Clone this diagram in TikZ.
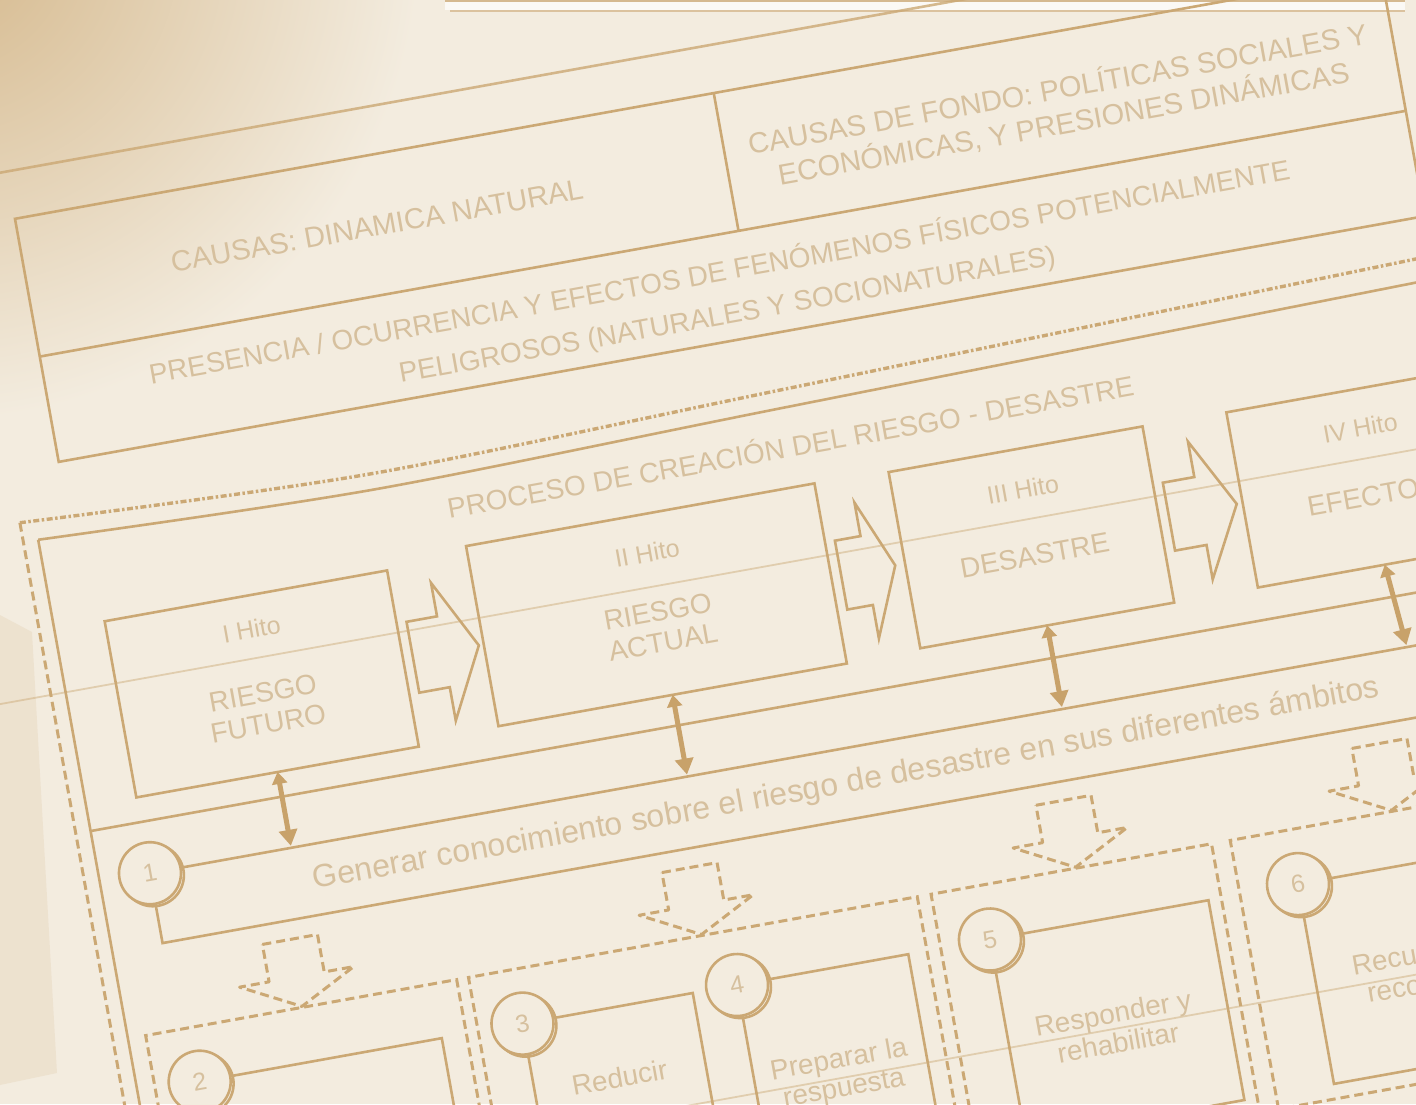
\documentclass[tikz,border=0pt]{standalone}
\usepackage{fontspec}
\setmainfont{Liberation Sans}
\usetikzlibrary{arrows.meta}
\definecolor{bg}{HTML}{F3ECDF}
\definecolor{ln}{HTML}{CBA874}
\definecolor{tx}{HTML}{D6C09E}
\definecolor{tanc}{HTML}{D4B78A}
\definecolor{arr}{HTML}{C8A26A}
\begin{document}
\begin{tikzpicture}[x=1pt,y=-1pt,
  boxline/.style={draw=ln,line width=2.6pt},
  hbox/.style={draw=ln,line width=2.6pt,inner sep=0pt,outer sep=0pt,rectangle},
  dline/.style={draw=ln,line width=3pt,dash pattern=on 9pt off 5pt},
  ddline/.style={draw=ln,line width=3.4pt,dash pattern=on 6pt off 2.5pt on 2.5pt off 2.5pt},
  ruled/.style={draw=ln,line width=1.8pt,opacity=0.45},
  lbl/.style={text=tx,align=center,inner sep=0pt,font=\fontsize{28}{34}\selectfont},
  hdr/.style={lbl,font=\fontsize{25}{30}\selectfont},
  numc/.style={circle,draw=ln,line width=2.6pt,fill=bg,minimum size=62pt,inner sep=0pt,text=tx,font=\fontsize{25}{28}\selectfont},
  dbl/.style={draw=arr,line width=5pt,{Triangle[width=15pt,length=12pt]}-{Triangle[width=18pt,length=16pt]}},
  blk/.style={draw=ln,line width=2.6pt,line join=miter},
  dblk/.style={dline,line join=round}
]
\useasboundingbox (0,0) rectangle (1416,1104);
\fill[bg] (0,0) rectangle (1416,1104);
\begin{scope}
\clip (0,0) rectangle (1416,1104);
% paper shading
\shade[inner color=tanc, outer color=bg] (-60,-60) circle (480pt);
\fill[tanc,opacity=0.18] (0,615) -- (32,632) -- (57,1073) -- (0,1085) -- cycle;
% frame at the top
\fill[white!70!bg] (445,0) rectangle (1405,10);
\draw[ln!80,line width=2pt] (445,1) -- (1405,1);
\draw[ln!70,line width=2pt] (450,11) -- (1405,11);

\begin{scope}[rotate=10.2,transform shape]
% ruled lines of the paper
\draw[ruled] (-150,693) -- (1500,693);
\draw[ruled] (-150,1210) -- (1500,1210);
% top rows
\draw[boxline,opacity=.8] (-120,170) -- (1500,170);
\draw[boxline] (-24,218) rectangle (1364,465);
\draw[boxline] (-24,358) -- (1364,358);
\draw[boxline] (686,218) -- (686,358);
\node[lbl,font=\fontsize{29}{35}\selectfont] (causasA) at (331,289) {CAUSAS: DINAMICA NATURAL};
\node[lbl,font=\fontsize{29}{35}\selectfont] (causasB) at (1025,292) {CAUSAS DE FONDO: POLÍTICAS SOCIALES Y\\ECONÓMICAS, Y PRESIONES DINÁMICAS};
\node[lbl,font=\fontsize{28}{43}\selectfont] (presencia) at (660,417) {PRESENCIA / OCURRENCIA Y EFECTOS DE FENÓMENOS FÍSICOS POTENCIALMENTE\\PELIGROSOS (NATURALES Y SOCIONATURALES)};
% process frames
\draw[ddline] plot[smooth] coordinates {(-73,518) (280,532) (700,522) (1450,503)};
\draw[dline] (-73,518) -- (-73,1340);
\draw[boxline] plot[smooth] coordinates {(-58,538) (280,548) (700,540) (1450,527)};
\draw[boxline] (-58,538) -- (-58,1340);
\draw[boxline] (-58,834) -- (1450,834);
\node[lbl] (proc) at (699,578) {PROCESO DE CREACIÓN DEL RIESGO - DESASTRE};
% hitos
\node[hbox,minimum width=287pt,minimum height=179pt] (h1) at (136.5,719.5) {};
\node[hbox,minimum width=354pt,minimum height=183pt] (h2) at (539,711.5) {};
\node[hbox,minimum width=258pt,minimum height=179pt] (h3) at (920,711.5) {};
\node[hbox,minimum width=258pt,minimum height=178pt] (h4) at (1263,712) {};
\node[hdr] (h1a) at (136,664) {I Hito};
\node[lbl,font=\fontsize{28}{31}\selectfont] (h1b) at (136,744) {RIESGO\\FUTURO};
\node[hdr] (h2a) at (539,659) {II Hito};
\node[lbl,font=\fontsize{28}{31}\selectfont] (h2b) at (539,734) {RIESGO\\ACTUAL};
\node[hdr] (h3a) at (920,663) {III Hito};
\node[lbl,font=\fontsize{28}{31}\selectfont] (h3b) at (920,730) {DESASTRE};
\node[hdr] (h4a) at (1263,662) {IV Hito};
\node[lbl,font=\fontsize{28}{31}\selectfont] (h4b) at (1263,731) {EFECTOS};
% block arrows between hitos
\draw[blk] (290,684) -- (321,684) -- (321,650) -- (357,720) -- (321,790) -- (321,756) -- (290,756) -- cycle;
\draw[blk] (726,680) -- (752,680) -- (752,646) -- (781,715) -- (752,784) -- (752,750) -- (726,750) -- cycle;
\draw[blk] (1059,681) -- (1091,681) -- (1091,645) -- (1128,715) -- (1091,785) -- (1091,750) -- (1059,750) -- cycle;
% band 1
\node[hbox,minimum width=1450pt,minimum height=71pt,anchor=north west] (band) at (-7,886) {};
\node[lbl,font=\fontsize{32}{36}\selectfont] (bandt) at (694,922) {Generar conocimiento sobre el riesgo de desastre en sus diferentes ámbitos};
% double arrows
\draw[dbl] (h1.south) -- (136.5,884);
\draw[dbl] (h2.south) -- (539,884);
\draw[dbl] (h3.south) -- (920,884);
\draw[dbl] (h4.south) -- (1270,884);
% dashed block arrows
\foreach \c in {119,525,905,1226}{
  \draw[dblk] ({\c-28},976) -- ({\c+28},976) -- ({\c+28},1014) -- ({\c+58},1014) -- (\c,1044) -- ({\c-58},1014) -- ({\c-28},1014) -- cycle;
}
% dashed frames
\draw[dline] (-40,1318) -- (-40,1045) -- (276,1045) -- (276,1318) -- cycle;
\draw[dline] (288,1318) -- (288,1045) -- (744,1045) -- (744,1318) -- cycle;
\draw[dline] (758,1318) -- (758,1045) -- (1043,1045) -- (1043,1318) -- cycle;
\draw[dline] (1062,1318) -- (1062,1045) -- (1420,1045) -- (1420,1318) -- cycle;
% lower boxes
\node[hbox,minimum width=246pt,minimum height=203pt,anchor=north west] (b2) at (5,1100) {};
\node[hbox,minimum width=173pt,minimum height=203pt,anchor=north west] (b3) at (333,1100) {};
\node[hbox,minimum width=174pt,minimum height=203pt,anchor=north west] (b4) at (551,1100) {};
\node[hbox,minimum width=222pt,minimum height=203pt,anchor=north west] (b5) at (808,1100) {};
\node[hbox,minimum width=229pt,minimum height=203pt,anchor=north west] (b6) at (1121,1100) {};
\node[lbl] (t3) at (419,1170) {Reducir};
\node[lbl,font=\fontsize{28}{29}\selectfont] (t4) at (638,1207) {Preparar la\\respuesta};
\node[lbl,font=\fontsize{28}{30}\selectfont] (t5) at (916,1209) {Responder y\\rehabilitar};
\node[lbl,font=\fontsize{28}{30}\selectfont] (t6) at (1236,1205) {Recuperar y\\reconstruir};
% numbered circles
\foreach \u/\v/\n in {-7/886/1, 5/1100/2, 333/1100/3, 551/1100/4, 808/1100/5, 1121/1100/6}{
  \draw[ln,line width=2.6pt] (\u,\v) ++(2.5,2.5) circle (31pt);
  \node[numc] (c\n) at (\u,\v) {\n};
}
\end{scope}
\end{scope}
\end{tikzpicture}
\end{document}
